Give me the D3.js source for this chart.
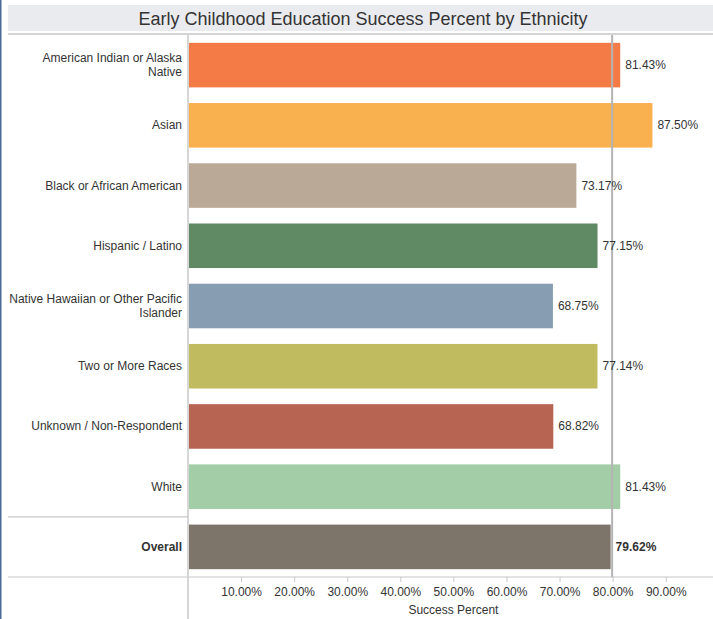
<!DOCTYPE html>
<html>
<head>
<meta charset="utf-8">
<script src="https://cdn.jsdelivr.net/npm/d3@7"></script>
<style>
  body { margin: 0; background: #fff; }
  svg text { font-family: "Liberation Sans", Arial, sans-serif; }
</style>
</head>
<body>
<div id="js-svg-container"></div>
<script>
let categories = [
    'American Indian or Alaska|Native',
    'Asian',
    'Black or African American',
    'Hispanic / Latino',
    'Native Hawaiian or Other Pacific|Islander',
    'Two or More Races',
    'Unknown / Non-Respondent',
    'White',
    'Overall'
];
let values = [81.43, 87.50, 73.17, 77.15, 68.75, 77.14, 68.82, 81.43, 79.62];
let barColors = ['#F47B45', '#F9B04E', '#BAA996', '#5F8A63', '#869DB2', '#C1BB5F', '#B76453', '#A2CDA6', '#7D746A'];
let tickValues = [10, 20, 30, 40, 50, 60, 70, 80, 90];
let refValue = 79.62;

document.addEventListener('DOMContentLoaded', function() {
    let width = 713, height = 619;
    let plot = { left: 188, right: 713, top: 35, bottom: 577 };

    let svg = d3.select('#js-svg-container')
        .append('svg')
        .attr('width', width)
        .attr('height', height);

    let x = d3.scaleLinear()
        .domain([0, 100])
        .range([plot.left, plot.left + 530.8]);

    let y = d3.scaleBand()
        .domain(categories)
        .range([plot.top, plot.bottom])
        .paddingInner(0.26)
        .paddingOuter(0.13);

    // left border
    svg.append('rect').attr('x', 0).attr('y', 0).attr('width', 1.5).attr('height', height).attr('fill', '#4a6a98');

    // title band
    svg.append('rect').attr('x', 8).attr('y', 5).attr('width', width - 8).attr('height', 26).attr('fill', '#eaebef');
    svg.append('text')
        .attr('x', 363).attr('y', 24.5)
        .attr('text-anchor', 'middle')
        .style('font-size', '18px')
        .style('fill', '#333')
        .text('Early Childhood Education Success Percent by Ethnicity');
    svg.append('rect').attr('x', 8).attr('y', 33).attr('width', width - 8).attr('height', 2).attr('fill', '#d4d4d4');

    // frame lines
    svg.append('line').attr('x1', plot.left).attr('x2', plot.left).attr('y1', 35).attr('y2', height)
        .attr('stroke', '#c8c8c8').attr('stroke-width', 1.5);
    let sepY = (y('White') + y.bandwidth() + y('Overall')) / 2;
    svg.append('line').attr('x1', 8).attr('x2', plot.left).attr('y1', sepY).attr('y2', sepY)
        .attr('stroke', '#c8c8c8').attr('stroke-width', 1.2);
    svg.append('line').attr('x1', 8).attr('x2', width).attr('y1', plot.bottom).attr('y2', plot.bottom)
        .attr('stroke', '#c8c8c8').attr('stroke-width', 1.2);

    // bars
    let rows = categories.map((c, i) => ({ cat: c, value: values[i], color: barColors[i], bold: c === 'Overall' }));

    svg.selectAll('rect.bar')
        .data(rows)
        .enter()
        .append('rect')
        .attr('class', 'bar')
        .attr('x', x(0) + 1)
        .attr('y', d => y(d.cat))
        .attr('width', d => x(d.value) - x(0) - 1)
        .attr('height', y.bandwidth())
        .attr('fill', d => d.color);

    // reference line
    svg.append('line')
        .attr('x1', x(refValue) + 1.5).attr('x2', x(refValue) + 1.5)
        .attr('y1', 35).attr('y2', plot.bottom)
        .attr('stroke', '#b4b4b4').attr('stroke-width', 2);

    // value labels
    svg.selectAll('text.val')
        .data(rows)
        .enter()
        .append('text')
        .attr('class', 'val')
        .attr('x', d => x(d.value) + 5)
        .attr('y', d => y(d.cat) + y.bandwidth() / 2 + 4)
        .style('font-size', '12px')
        .style('font-weight', d => d.bold ? 'bold' : 'normal')
        .style('fill', '#333')
        .text(d => d.value.toFixed(2) + '%');

    // category labels
    let labels = svg.selectAll('text.cat')
        .data(rows)
        .enter()
        .append('text')
        .attr('class', 'cat')
        .attr('text-anchor', 'end')
        .style('font-size', '12px')
        .style('font-weight', d => d.bold ? 'bold' : 'normal')
        .style('fill', '#333');
    labels.each(function(d) {
        let parts = d.cat.split('|');
        let cy = y(d.cat) + y.bandwidth() / 2 + 4 - (parts.length - 1) * 7;
        parts.forEach((p, k) => {
            d3.select(this).append('tspan')
                .attr('x', 182)
                .attr('y', cy + k * 14)
                .text(p);
        });
    });

    // x axis
    let axis = svg.append('g')
        .attr('transform', 'translate(0,' + plot.bottom + ')')
        .call(d3.axisBottom(x).tickValues(tickValues).tickSize(5).tickPadding(5)
            .tickFormat(d => d.toFixed(2) + '%'));
    axis.select('.domain').remove();
    axis.selectAll('.tick line').attr('stroke', '#c8c8c8');
    axis.selectAll('.tick text')
        .style('font-size', '12px')
        .style('fill', '#333')
        .style('font-family', '"Liberation Sans", Arial, sans-serif');

    svg.append('text')
        .attr('x', x(50)).attr('y', 614)
        .attr('text-anchor', 'middle')
        .style('font-size', '12px')
        .style('fill', '#333')
        .text('Success Percent');
});
</script>
</body>
</html>
